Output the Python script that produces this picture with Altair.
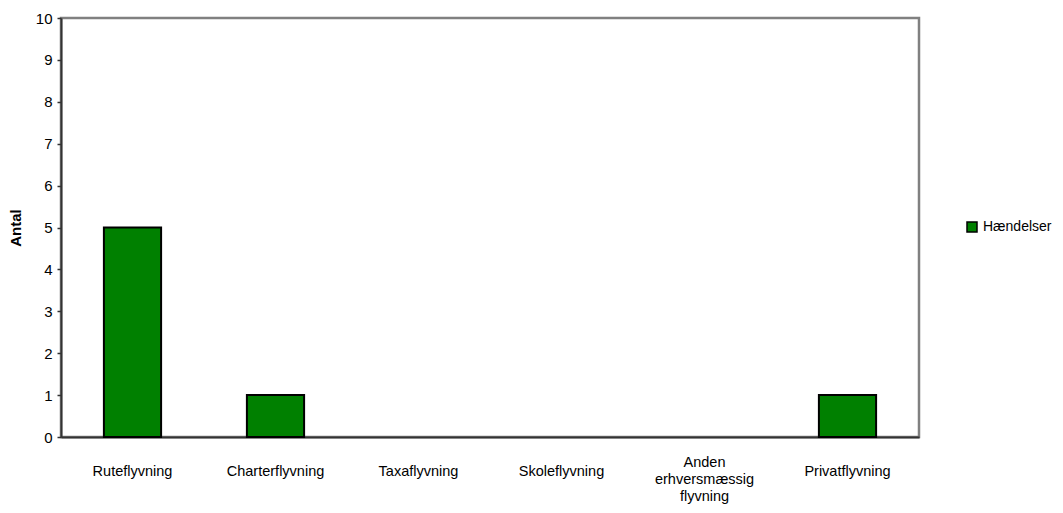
import altair as alt
import pandas as pd

categories = ["Ruteflyvning", "Charterflyvning", "Taxaflyvning", "Skoleflyvning",
              "Anden erhversmæssig flyvning", "Privatflyvning"]
values = [5, 1, 0, 0, 0, 1]
series = ["Hændelser"] * len(categories)
y_ticks = list(range(0, 11))

df = pd.DataFrame({"Kategori": categories, "Antal": values, "Serie": series})

FONT = "Liberation Sans"

bars = alt.Chart(df).transform_filter("datum.Antal > 0").mark_bar(
    stroke="black", strokeWidth=2
).encode(
    x=alt.X("Kategori:N", sort=categories,
            scale=alt.Scale(domain=categories, paddingInner=0.6, paddingOuter=0.3),
            axis=alt.Axis(title=None, labelAngle=0, ticks=False,
                          domainColor="#333333", domainWidth=2,
                          labelFont=FONT, labelFontSize=14.5, labelColor="black",
                          labelBaseline="top", labelLineHeight=17,
                          labelPadding={"condition": {"test": "datum.value == 'Anden erhversmæssig flyvning'", "value": 18}, "value": 27},
                          labelExpr="datum.value == 'Anden erhversmæssig flyvning' ? ['Anden', 'erhversmæssig', 'flyvning'] : datum.value")),
    y=alt.Y("Antal:Q", scale=alt.Scale(domain=[0, 10], nice=False),
            axis=alt.Axis(title="Antal", values=y_ticks, grid=False,
                          domainColor="#333333", domainWidth=2,
                          tickColor="#333333", tickSize=4, tickWidth=1.5,
                          labelFont=FONT, labelFontSize=15, labelColor="black", labelPadding=5,
                          titleFont=FONT, titleFontSize=15, titleFontWeight="bold",
                          titleColor="black", titlePadding=12)),
    color=alt.Color("Serie:N", scale=alt.Scale(domain=["Hændelser"], range=["#008000"]),
                    legend=alt.Legend(title=None, orient="none", legendX=904, legendY=202,
                                      symbolType="square", symbolSize=100,
                                      symbolStrokeColor="black", symbolStrokeWidth=1.5,
                                      labelFont=FONT, labelFontSize=14, labelColor="black",
                                      labelOffset=4, labelLimit=200)),
)

chart = bars.properties(
    width=858, height=419,
    background="white",
    autosize=alt.AutoSizeParams(type="none"),
    padding={"left": 53, "top": 10, "right": 136, "bottom": 68},
).configure_view(
    stroke="#808080", strokeWidth=2.5
)

chart.save("out.html", embed_options={"renderer": "svg", "actions": False})
